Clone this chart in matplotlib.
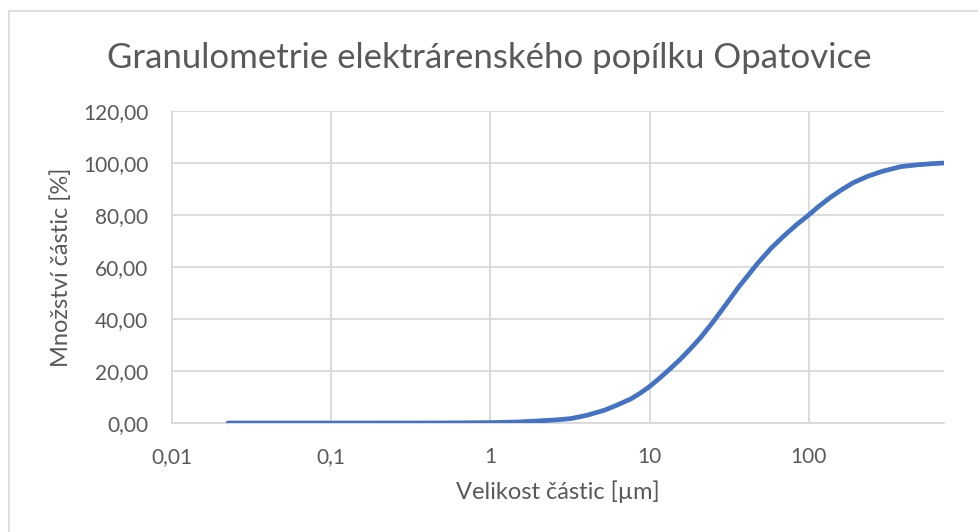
import matplotlib
matplotlib.use("Agg")
import matplotlib.pyplot as plt
from matplotlib.patches import Rectangle
from matplotlib.ticker import FixedLocator, NullLocator, FuncFormatter

plt.rcParams['font.family'] = ['Lato', 'DejaVu Sans']

# particle size [um] and cumulative amount [%]
size_um = [0.0225, 0.05, 0.1, 0.2, 0.5, 1.0, 1.5, 2.0, 2.6, 3.2, 4.0, 5.2, 6.2,
           7.6, 8.7, 10.0, 11.6, 13.5, 15.6, 18.1, 20.9, 25.0, 29.4, 36.0, 47.6,
           58.0, 70.0, 84.0, 100.0, 115.0, 137.0, 159.0, 190.0, 235.0, 290.0,
           379.0, 480.0, 600.0, 706.0]
amount_pct = [0.0, 0.0, 0.0, 0.0, 0.02, 0.15, 0.4, 0.8, 1.2, 1.7, 2.9, 4.9, 6.8,
              9.2, 11.4, 14.0, 17.3, 20.9, 24.5, 28.6, 32.8, 38.8, 44.6, 52.0, 61.3,
              67.2, 72.0, 76.3, 80.0, 83.2, 86.8, 89.5, 92.4, 94.9, 96.8,
              98.6, 99.3, 99.75, 100.0]

x_ticks = [0.01, 0.1, 1, 10, 100]
x_labels = ['0,01', '0,1', '1', '10', '100']
y_ticks = [0, 20, 40, 60, 80, 100, 120]

grey = '#595959'
grid = '#d9d9d9'

fig = plt.figure(figsize=(9.79, 5.32), dpi=100)
fig.patches.append(Rectangle((9 / 979, -0.1), 1.0, 1.1 - 11 / 532, transform=fig.transFigure,
                             fill=False, edgecolor=grid, linewidth=1.2))

ax = fig.add_axes([172 / 979, 1 - 423 / 532, (944 - 172) / 979, (423 - 111) / 532])
ax.plot(size_um, amount_pct, color='#4472C4', linewidth=3.4, solid_capstyle='round',
        solid_joinstyle='round', zorder=3)

ax.set_xscale('log')
ax.set_xlim(0.01, 10 ** 2.85)
ax.set_ylim(0, 120)
ax.xaxis.set_major_locator(FixedLocator(x_ticks))
ax.xaxis.set_minor_locator(NullLocator())
ax.xaxis.set_major_formatter(FuncFormatter(lambda v, p: x_labels[x_ticks.index(v)] if v in x_ticks else ''))
ax.set_yticks(y_ticks)
ax.yaxis.set_major_formatter(FuncFormatter(lambda v, p: f'{v:.2f}'.replace('.', ',')))

ax.grid(True, color=grid, linewidth=1.3)
ax.set_axisbelow(True)
for s in ['top', 'right']:
    ax.spines[s].set_visible(False)
for s in ['left', 'bottom']:
    ax.spines[s].set_color(grid)
    ax.spines[s].set_linewidth(1.3)
ax.tick_params(length=0, labelsize=15, colors=grey)
ax.tick_params(axis='x', pad=17)
ax.tick_params(axis='y', pad=17)

ax.set_xlabel('Velikost částic [µm]', fontsize=17, color=grey, labelpad=10)
ax.set_ylabel('Množství částic [%]', fontsize=17, color=grey, labelpad=8)
fig.text(0.5, 1 - 58 / 532, 'Granulometrie elektrárenského popílku Opatovice',
         ha='center', va='center', fontsize=25, color=grey)

fig.savefig('out.png', dpi=100)
